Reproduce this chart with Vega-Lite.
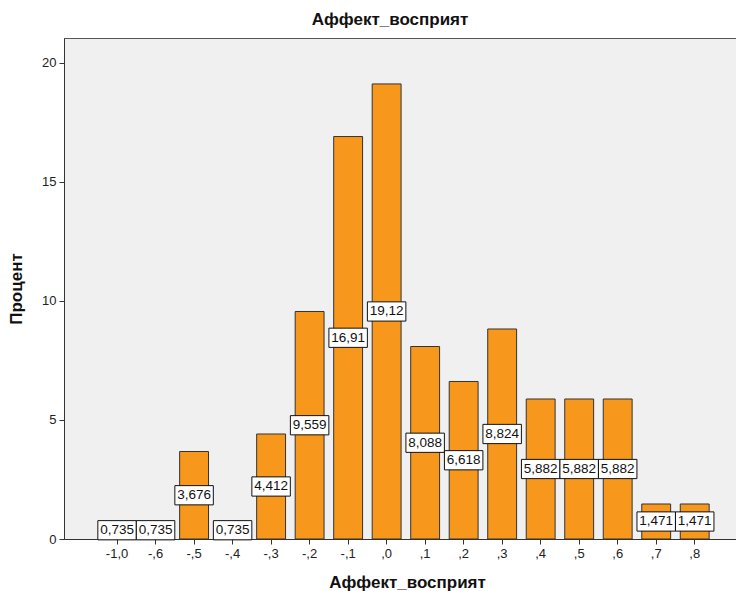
{
  "$schema": "https://vega.github.io/schema/vega-lite/v6.json",
  "autosize": {"type": "none"},
  "width": 672,
  "height": 501,
  "padding": {"left": 64, "top": 38, "right": 0, "bottom": 52},
  "background": "white",
  "config": {
    "font": "Liberation Sans",
    "locale": {"number": {"decimal": ",", "thousands": " ", "grouping": [3], "currency": ["", ""]}},
    "view": {"stroke": "#555555", "strokeWidth": 1, "fill": "#F0F0F0"},
    "axis": {"grid": false, "domainColor": "#333333", "tickColor": "#333333", "labelColor": "#222222", "labelFontSize": 13, "titleFontSize": 17, "titleFontWeight": "bold", "titleColor": "#111111", "tickSize": 5, "labelFont": "Liberation Sans", "titleFont": "Liberation Sans"}
  },
  "title": {"text": "Аффект_восприят", "fontSize": 17, "fontWeight": "bold", "anchor": "middle", "offset": 9, "dx": -10, "color": "#111111", "font": "Liberation Sans"},
  "data": {"values": [
    {"cat": "-1,0", "pct": 0.735},
    {"cat": "-,6", "pct": 0.735},
    {"cat": "-,5", "pct": 3.676},
    {"cat": "-,4", "pct": 0.735},
    {"cat": "-,3", "pct": 4.412},
    {"cat": "-,2", "pct": 9.559},
    {"cat": "-,1", "pct": 16.91},
    {"cat": ",0", "pct": 19.12},
    {"cat": ",1", "pct": 8.088},
    {"cat": ",2", "pct": 6.618},
    {"cat": ",3", "pct": 8.824},
    {"cat": ",4", "pct": 5.882},
    {"cat": ",5", "pct": 5.882},
    {"cat": ",6", "pct": 5.882},
    {"cat": ",7", "pct": 1.471},
    {"cat": ",8", "pct": 1.471}
  ]},
  "encoding": {
    "x": {"field": "cat", "type": "nominal", "sort": null,
      "scale": {"paddingInner": 0.25, "paddingOuter": 0.85, "align": 0.59},
      "axis": {"title": "Аффект_восприят", "labelAngle": 0, "labelPadding": 3, "titlePadding": 14, "titleX": 343}}
  },
  "layer": [
    {
      "mark": {"type": "bar", "color": "#F7981D", "stroke": "#333333", "strokeWidth": 1},
      "encoding": {
        "y": {"field": "pct", "type": "quantitative",
          "scale": {"domain": [0, 21.05], "nice": false, "zero": true},
          "axis": {"title": "Процент", "values": [0, 5, 10, 15, 20], "titlePadding": 16, "labelPadding": 3}}
      }
    },
    {
      "layer": [
        {
          "mark": {"type": "point", "shape": "M-1,-0.5L1,-0.5L1,0.5L-1,0.5Z", "size": 1480, "filled": true, "fill": "white", "stroke": "#111111", "strokeWidth": 1, "opacity": 1}
        },
        {
          "mark": {"type": "text", "fontSize": 13.5, "color": "#111111", "baseline": "middle", "align": "center", "font": "Liberation Sans"},
          "encoding": {"text": {"field": "pct", "type": "quantitative", "format": ".4~r"}}
        }
      ],
      "encoding": {
        "y": {"field": "pct", "type": "quantitative",
          "scale": {"domain": [0, 42.1], "nice": false, "zero": true},
          "axis": null}
      }
    }
  ],
  "resolve": {"scale": {"y": "independent"}}
}
